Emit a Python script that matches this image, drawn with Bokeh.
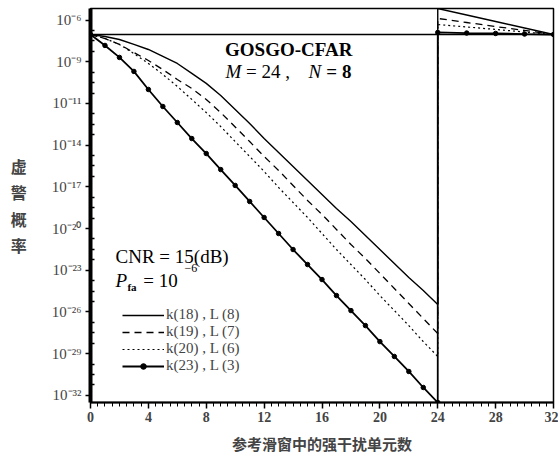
from bokeh.plotting import figure
from bokeh.models import (Range1d, FixedTicker, SingleIntervalTicker, Span, Label,
                          Legend, LegendItem)
from bokeh.embed import file_html
from bokeh.resources import INLINE

# ---------------- data (log10 of false-alarm probability) ----------------
x_main = list(range(0, 25))
x_right = [24, 26, 28, 30, 32]

k18_main = [-7.00, -7.14, -7.35, -7.69, -8.04, -8.52, -9.01, -9.70, -10.39, -11.23,
            -12.20, -13.17, -14.21, -15.18, -16.15, -17.12, -18.09, -19.06, -19.96,
            -20.93, -21.90, -22.87, -23.84, -24.74, -25.71]
k19_main = [-7.00, -7.28, -7.69, -8.25, -8.80, -9.43, -10.12, -10.74, -11.50, -12.41,
            -13.41, -14.42, -15.45, -16.42, -17.46, -18.50, -19.47, -20.51, -21.55,
            -22.52, -23.56, -24.60, -25.64, -26.68, -27.72]
k20_main = [-7.00, -7.28, -7.69, -8.32, -9.01, -9.77, -10.60, -11.50, -12.41, -13.38,
            -14.42, -15.45, -16.49, -17.60, -18.64, -19.68, -20.79, -21.90, -22.94,
            -23.98, -25.09, -26.13, -27.17, -28.28, -29.31]
k23_main = [-7.00, -7.76, -8.59, -9.56, -10.81, -11.99, -13.10, -14.21, -15.25, -16.36,
            -17.46, -18.57, -19.68, -20.79, -21.90, -22.94, -23.98, -25.09, -26.13,
            -27.17, -28.28, -29.31, -30.35, -31.46, -32.50]

k18_right = [-5.20, -5.65, -6.10, -6.55, -7.00]
k19_right = [-5.89, -6.17, -6.45, -6.72, -7.00]
k20_right = [-6.31, -6.48, -6.65, -6.83, -7.00]
k23_right = [-6.86, -6.90, -6.93, -6.97, -7.00]

design_level = -7.0

series_labels = ["k(18) , L (8)", "k(19) , L (7)", "k(20) , L (6)", "k(23) , L (3)"]

y_tick_pos = [-6.0, -8.889, -11.778, -14.667, -17.556, -20.444, -23.333, -26.222,
              -29.111, -32.0]
y_tick_text = ["10⁻⁶", "10⁻⁹", "10⁻¹¹", "10⁻¹⁴", "10⁻¹⁷", "10⁻²⁰", "10⁻²³",
               "10⁻²⁶", "10⁻²⁹", "10⁻³²"]

x_label = "参考滑窗中的强干扰单元数"
y_label = "虚\n警\n概\n率"

SERIF = "Liberation Serif"

# ---------------- figure ----------------
p = figure(width=558, height=456, x_range=Range1d(0, 32), y_range=Range1d(-32.5, -5.2),
           output_backend="svg", toolbar_location=None,
           min_border_left=90, min_border_right=5, min_border_top=8, min_border_bottom=53)
p.xgrid.visible = False
p.ygrid.visible = False
p.outline_line_color = "black"
p.outline_line_width = 1.5
p.background_fill_color = "white"
p.border_fill_color = "white"

# axes
p.xaxis.ticker = SingleIntervalTicker(interval=4, num_minor_ticks=8)
p.xaxis.axis_line_width = 2
p.xaxis.major_tick_out = 6
p.xaxis.major_tick_in = 0
p.xaxis.minor_tick_out = 4
p.xaxis.minor_tick_in = 0
p.xaxis.major_tick_line_width = 1.5
p.xaxis.major_label_text_font = SERIF
p.xaxis.major_label_text_font_style = "bold"
p.xaxis.major_label_text_font_size = "14px"
p.xaxis.major_label_standoff = 3
p.xaxis.axis_label = x_label
p.xaxis.axis_label_text_font = "Noto Sans CJK SC"
p.xaxis.axis_label_text_font_style = "bold"
p.xaxis.axis_label_text_font_size = "15px"
p.xaxis.axis_label_standoff = 8

minor_y = []
for a, b in zip(y_tick_pos[:-1], y_tick_pos[1:]):
    for j in range(1, 4):
        minor_y.append(a + (b - a) * j / 4)
p.yaxis.ticker = FixedTicker(ticks=y_tick_pos, minor_ticks=minor_y)
p.yaxis.major_label_overrides = dict(zip(y_tick_pos, y_tick_text))
p.yaxis.axis_line_width = 4
p.yaxis.major_tick_out = 5
p.yaxis.major_tick_in = 0
p.yaxis.minor_tick_in = 4
p.yaxis.minor_tick_out = 0
p.yaxis.major_tick_line_width = 1.5
p.yaxis.minor_tick_line_width = 1.5
p.yaxis.major_label_text_font = SERIF
p.yaxis.major_label_text_font_size = "15px"
p.yaxis.major_label_standoff = 4
p.yaxis.axis_label = y_label
p.yaxis.axis_label_orientation = "horizontal"
p.yaxis.axis_label_text_font = "Noto Sans CJK SC"
p.yaxis.axis_label_text_font_style = "bold"
p.yaxis.axis_label_text_font_size = "16px"
p.yaxis.axis_label_text_line_height = 1.1
p.yaxis.axis_label_standoff = 22

# design level line
p.add_layout(Span(location=design_level, dimension="width", line_color="black",
                  line_width=1.5))

# curves
xs = x_main + x_right
r18 = p.line(xs, k18_main + k18_right, line_color="black", line_width=1.4)
r19 = p.line(xs, k19_main + k19_right, line_color="black", line_width=1.3,
             line_dash="7 5")
r20 = p.line(xs, k20_main + k20_right, line_color="black", line_width=1.2,
             line_dash="2 3")
r23 = p.line(xs, k23_main + k23_right, line_color="black", line_width=1.8)
s23 = p.scatter(xs, k23_main + k23_right, marker="circle", size=4.5, color="black")

legend = Legend(items=[LegendItem(label=series_labels[0], renderers=[r18]),
                       LegendItem(label=series_labels[1], renderers=[r19]),
                       LegendItem(label=series_labels[2], renderers=[r20]),
                       LegendItem(label=series_labels[3], renderers=[r23, s23])],
                location=(32, 28), border_line_alpha=0, background_fill_alpha=0,
                label_text_font=SERIF, label_text_font_size="15px",
                glyph_width=42, glyph_height=14, label_height=14, spacing=0,
                padding=0, margin=0, label_standoff=2)
p.add_layout(legend)

# annotations
def lab(x, y, text, size="16px", style="normal", align="left", baseline="middle"):
    p.add_layout(Label(x=x, y=y, text=text, text_font=SERIF, text_font_size=size,
                       text_font_style=style, text_align=align,
                       text_baseline=baseline, text_color="black"))

lab(13.7, -8.04, "GOSGO-CFAR", size="19px", style="bold", align="center")
lab(9.33, -9.56, "M", size="19px", style="italic")
lab(10.75, -9.56, "= 24 ,", size="19px")
lab(15.07, -9.56, "N", size="19px", style="italic")
lab(16.3, -9.56, "= 8", size="19px", style="bold")
lab(1.73, -22.38, "CNR = 15(dB)", size="19px")
lab(1.73, -24.05, "P", size="19px", style="italic")
lab(2.55, -24.5, "fa", size="11px", style="bold")
lab(3.65, -24.05, "= 10", size="19px")
lab(6.5, -23.2, "−6", size="12px")

open("out.html", "w").write(file_html(p, INLINE))
